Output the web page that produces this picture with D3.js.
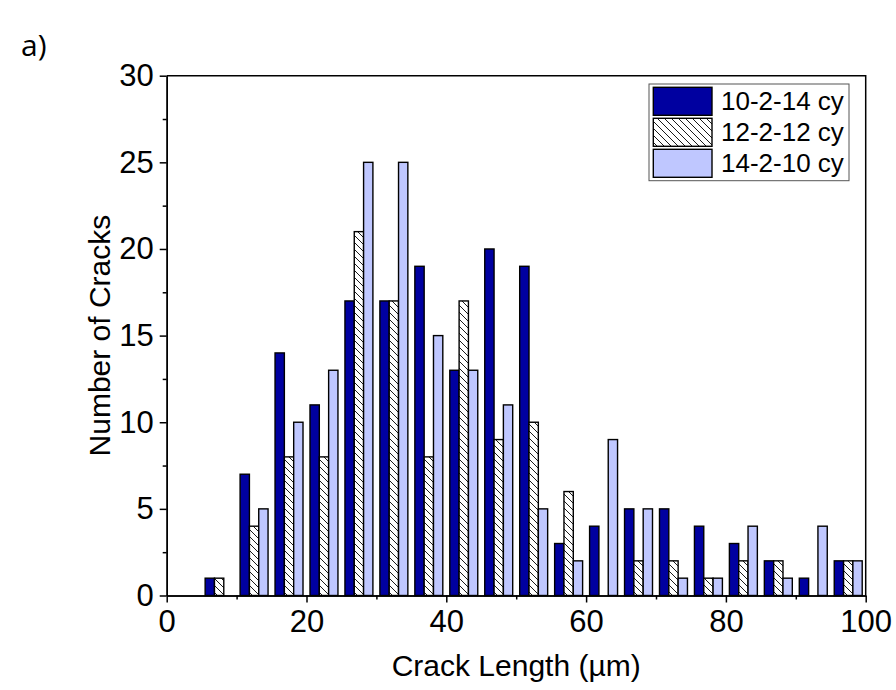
<!DOCTYPE html>
<html>
<head>
<meta charset="utf-8">
<script src="https://cdn.jsdelivr.net/npm/d3@7"></script>
<style>
  html, body { margin: 0; padding: 0; background: #fff; }
  svg { display: block; }
  text { font-family: "Liberation Sans", Arial, Helvetica, sans-serif; fill: #000; }
</style>
</head>
<body>
<svg id="chart" width="896" height="690"></svg>
<script>
// Crack-length histogram: counts per 5 µm bin for three cycle programs
const binStarts = [5, 10, 15, 20, 25, 30, 35, 40, 45, 50, 55, 60, 65, 70, 75, 80, 85, 90, 95];
const binWidth = 5;
const seriesNames = ["10-2-14 cy", "12-2-12 cy", "14-2-10 cy"];
const counts_10_2_14 = [1, 7, 14, 11, 17, 17, 19, 13, 20, 19, 3, 4, 5, 5, 4, 3, 2, 1, 2];
const counts_12_2_12 = [1, 4, 8, 8, 21, 17, 8, 17, 9, 10, 6, 0, 2, 2, 1, 2, 2, 0, 2];
const counts_14_2_10 = [0, 5, 10, 13, 25, 25, 15, 13, 11, 5, 2, 9, 5, 1, 1, 4, 1, 4, 2];
const xMajorTicks = [0, 20, 40, 60, 80, 100];
const xMinorTicks = [10, 30, 50, 70, 90];
const yMajorTicks = [0, 5, 10, 15, 20, 25, 30];
const yMinorTicks = [2.5, 7.5, 12.5, 17.5, 22.5, 27.5];

const seriesValues = [counts_10_2_14, counts_12_2_12, counts_14_2_10];
const fills = ["#0000A0", "url(#hatch)", "#BFC7FF"];

const svg = d3.select("#chart");
const plot = { left: 166.7, right: 865.7, top: 75.7, bottom: 595.5 };

const x = d3.scaleLinear().domain([0, 100]).range([plot.left, plot.right]);
const y = d3.scaleLinear().domain([0, 30]).range([plot.bottom, plot.top]);

// diagonal hatch for the middle series
const defs = svg.append("defs");
const pat = defs.append("pattern")
  .attr("id", "hatch")
  .attr("patternUnits", "userSpaceOnUse")
  .attr("width", 7).attr("height", 7);
pat.append("rect").attr("width", 7).attr("height", 7).attr("fill", "#fff");
pat.append("path")
  .attr("d", "M-1,-1 L8,8 M-1,6 L1,8 M6,-1 L8,1")
  .attr("stroke", "#000").attr("stroke-width", 0.9);

// bars: three side by side in each bin, group occupies 80% of the bin
const groupFrac = 0.8;
const barUnits = binWidth * groupFrac / 3;
const bars = [];
binStarts.forEach((b, i) => {
  seriesValues.forEach((vals, s) => {
    const v = vals[i];
    if (v > 0) bars.push({ x0: b + binWidth * (1 - groupFrac) / 2 + s * barUnits, v, s });
  });
});

svg.append("g").selectAll("rect")
  .data(bars)
  .join("rect")
  .attr("x", d => x(d.x0))
  .attr("width", d => x(d.x0 + barUnits) - x(d.x0))
  .attr("y", d => y(d.v))
  .attr("height", d => y(0) - y(d.v))
  .attr("fill", d => fills[d.s])
  .attr("stroke", "#000")
  .attr("stroke-width", 1.4);

// axes
const tickFont = "31px";
const xAxis = svg.append("g")
  .attr("transform", `translate(0,${plot.bottom})`)
  .call(d3.axisBottom(x).tickValues(xMajorTicks).tickSize(7).tickPadding(7).tickSizeOuter(0));
const xMinor = svg.append("g")
  .attr("transform", `translate(0,${plot.bottom})`)
  .call(d3.axisBottom(x).tickValues(xMinorTicks).tickSize(4).tickFormat("").tickSizeOuter(0));
const yAxis = svg.append("g")
  .attr("transform", `translate(${plot.left},0)`)
  .call(d3.axisLeft(y).tickValues(yMajorTicks).tickSize(7).tickPadding(6).tickSizeOuter(0));
const yMinor = svg.append("g")
  .attr("transform", `translate(${plot.left},0)`)
  .call(d3.axisLeft(y).tickValues(yMinorTicks).tickSize(4).tickFormat("").tickSizeOuter(0));

[xAxis, xMinor, yAxis, yMinor].forEach(g => {
  g.selectAll("path.domain").attr("stroke", "#000").attr("stroke-width", 1.5);
  g.selectAll(".tick line").attr("stroke", "#000").attr("stroke-width", 1.5);
  g.selectAll(".tick text")
    .style("font-size", tickFont)
    .style("font-family", '"Liberation Sans", Arial, sans-serif')
    .attr("fill", "#000");
});

// top and right frame
svg.append("path")
  .attr("d", `M${plot.left},${plot.top} H${plot.right} V${plot.bottom}`)
  .attr("fill", "none").attr("stroke", "#000").attr("stroke-width", 1.5);

// axis titles
svg.append("text")
  .attr("x", (plot.left + plot.right) / 2)
  .attr("y", 676)
  .attr("text-anchor", "middle")
  .style("font-size", "30px")
  .text("Crack Length (µm)");

svg.append("text")
  .attr("transform", `translate(110,${(plot.top + plot.bottom) / 2}) rotate(-90)`)
  .attr("text-anchor", "middle")
  .style("font-size", "30px")
  .text("Number of Cracks");

// panel label
svg.append("text")
  .attr("x", 21).attr("y", 56)
  .style("font-family", '"Open Sans", "Noto Sans", sans-serif')
  .style("font-size", "30px")
  .text("a)");

// legend
const legend = svg.append("g");
legend.append("rect")
  .attr("x", 649).attr("y", 84)
  .attr("width", 200).attr("height", 96.7)
  .attr("fill", "#fff").attr("stroke", "#555").attr("stroke-width", 1);
seriesNames.forEach((name, s) => {
  const top = 87.3 + s * 31;
  legend.append("rect")
    .attr("x", 653.3).attr("y", top)
    .attr("width", 58.7).attr("height", 28)
    .attr("fill", fills[s])
    .attr("stroke", "#000").attr("stroke-width", 1.4);
  legend.append("text")
    .attr("x", 721).attr("y", top + 23)
    .style("font-size", "26px")
    .text(name);
});
</script>
</body>
</html>
